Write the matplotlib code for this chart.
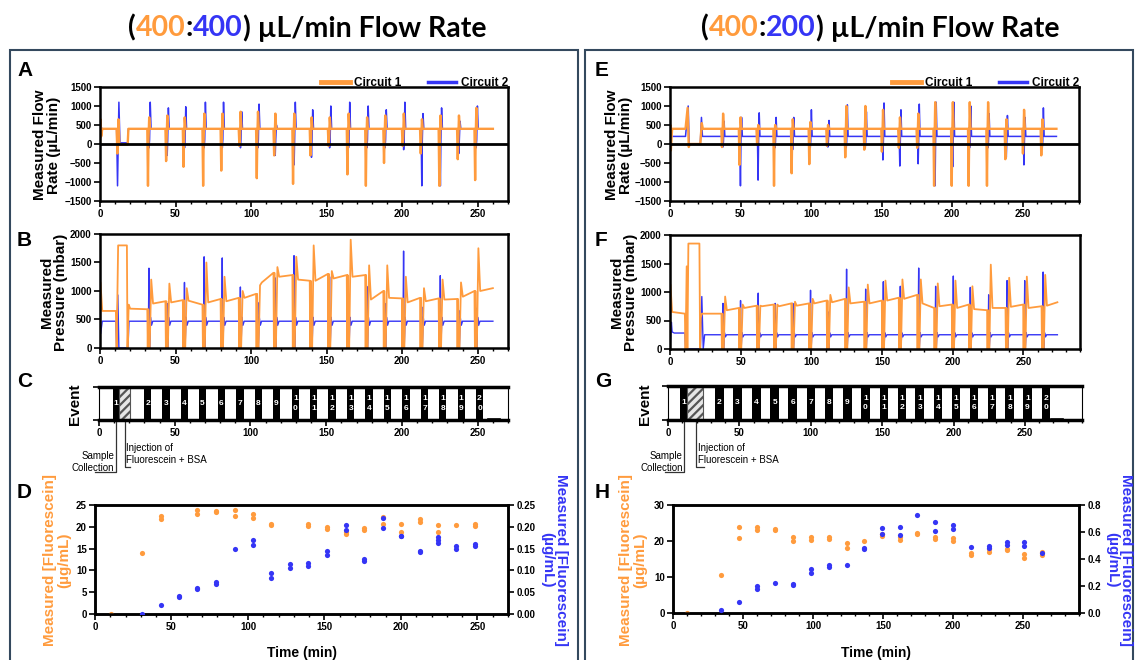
import numpy as np
import matplotlib.pyplot as plt
import matplotlib.transforms as mtrans
from matplotlib.patches import Rectangle
from matplotlib.lines import Line2D

W, H = 1135, 660
ORANGE = '#FF9B3D'
BLUE = '#3535F5'
FRAME = '#34495E'

plt.rcParams['font.family'] = ['Liberation Sans', 'DejaVu Sans']
plt.rcParams['font.weight'] = 'bold'
plt.rcParams['hatch.linewidth'] = 1.6

# ---------------- data: 400:400 run (left) ----------------
a_evt = [32.5, 44.5, 56, 69, 81, 93, 104.5, 116, 128.5, 140, 152, 164.5, 176.7,
         188.7, 201, 213, 225.3, 237.5, 249]
a_or_lo = [-1100, -450, -600, -1100, -700, -50, -900, -300, -1050, -300, -50, -800,
           -1100, -500, -50, -250, -1100, -400, -950]
a_or_hi = [700, 750, 700, 800, 800, 850, 850, 800, 800, 700, 700, 800, 700, 750,
           800, 650, 750, 750, 950]
a_bl_lo = [-100, -300, -100, -100, -100, -100, -100, -300, -550, -350, -100, -100,
           -100, -100, -150, -1100, -1100, -250, -100]
a_bl_hi = [1100, 950, 980, 1100, 1100, 850, 1050, 500, 1100, 900, 1000, 1100, 1000,
           900, 1100, 800, 950, 600, 1000]
a_or_t0 = [0, 0.3, 0.8, 1.5, 11.0, 11.5, 12.2, 12.8, 13.3, 18.3, 18.8]
a_or_v0 = [0, 650, 200, 400, 400, -250, 650, 0, -20, -20, 400]
a_bl_t0 = [0, 0.5, 1.5, 11.0, 11.6, 12.5, 13.2, 18.3, 18.8]
a_bl_v0 = [400, 450, 400, 400, -1100, 1100, 30, 30, 400]

b_or_peak = [1200, 1130, 1050, 1500, 1250, 1000, 1100, 1420, 1600, 1800, 1350, 1900,
             1450, 1450, 1250, 1050, 1200, 1150, 1750]
b_or_p0 = [780, 800, 830, 800, 820, 880, 1150, 1250, 1200, 1180, 1220, 1250, 850, 880,
           800, 820, 850, 900, 1000]
b_or_p1 = [820, 840, 760, 860, 880, 950, 1320, 1280, 1180, 1300, 1280, 1280, 1000, 870,
           880, 870, 860, 1000, 1050]
b_bl_peak = [1400, 780, 1150, 1600, 1580, 1070, 800, 1230, 1620, 870, 1250, 950, 1080,
             780, 1700, 720, 1270, 660, 700]
b_or_t0 = [0, 0.3, 1.5, 10.5, 11.0, 12.0, 17.8, 18.2, 19.0, 20.0, 30.0]
b_or_v0 = [0, 1150, 650, 650, 0, 1800, 1800, 0, 760, 690, 680]
b_bl_t0 = [0, 0.4, 1.5, 10.5, 11.0, 11.8, 12.5, 18.5, 19.2]
b_bl_v0 = [550, 250, 470, 470, 0, 930, 0, 0, 470]

c_bar_start = [9.2, 29.7, 41.8, 53.9, 65.9, 78.3, 90.6, 102.7, 114.7, 127.3, 139.1,
               151.4, 163.8, 175.8, 187.9, 200.2, 212.6, 224.6, 236.7, 248.8]
c_bar_width = [4.1] + [4.8] * 19
c_hatch = [13.3, 7.2]
c_tail = [257, 264.5]

d_t_or = [10.5, 30.8, 43, 43, 67, 67, 79, 79, 91.3, 91.3, 103.3, 103.3, 115.3, 115.3,
          139.5, 139.5, 151.5, 151.5, 163.8, 163.8, 175.8, 175.8, 188, 188, 200, 200,
          212.2, 212.2, 224.2, 224.2, 236.2, 248.5, 248.5]
d_or = [0, 13.9, 22.5, 21.9, 23.8, 23.0, 23.7, 23.3, 23.8, 22.4, 23.0, 22.1, 20.6, 20.3,
        20.6, 20.1, 20.0, 19.5, 18.9, 18.4, 19.7, 19.3, 22.2, 20.6, 20.6, 18.7, 21.8, 21.2,
        20.5, 18.8, 20.5, 20.6, 20.2]
d_t_bl = [30.8, 43, 55, 55, 67, 67, 79, 79, 91.3, 103.3, 103.3, 115.3, 115.3, 127.3, 127.3,
          139.5, 139.5, 151.5, 151.5, 163.8, 163.8, 175.8, 175.8, 188, 188, 200, 200,
          212.2, 212.2, 224.2, 224.2, 224.2, 236.2, 236.2, 248.5, 248.5]
d_bl = [0.0, 0.020, 0.042, 0.040, 0.059, 0.057, 0.073, 0.068, 0.148, 0.170, 0.158, 0.093,
        0.083, 0.114, 0.105, 0.117, 0.110, 0.144, 0.136, 0.205, 0.192, 0.127, 0.121, 0.221,
        0.197, 0.180, 0.178, 0.145, 0.142, 0.176, 0.169, 0.163, 0.157, 0.149, 0.161, 0.155]

# ---------------- data: 400:200 run (right) ----------------
e_evt = [37.6, 50, 62.5, 74.5, 87, 99.5, 112, 125, 138.5, 151, 163, 176, 188, 200.5,
         212.5, 225.5, 238.5, 251, 264]
e_or_lo = [-80, -550, -20, -1100, -770, -530, -50, -350, -150, -200, -100, -100, -1100,
           -1100, -1100, -1100, -400, -250, -300]
e_or_hi = [800, 700, 500, 500, 650, 580, 500, 1000, 1000, 900, 700, 800, 1100, 1100, 1100,
           1100, 650, 900, 650]
e_bl_lo = [-80, -1100, -950, -100, -150, -100, -80, -100, -100, -420, -580, -520, -1100,
           -600, -100, -100, -350, -550, -100]
e_bl_hi = [600, 700, 820, 700, 700, 900, 620, 1030, 850, 1080, 900, 1050, 1100, 1100, 1000,
           800, 750, 700, 950]
e_or_t0 = [0, 0.3, 0.6, 1.5, 11.0, 12.5, 13.3, 14.0, 21.5, 22.5, 23.3]
e_or_v0 = [0, 500, -170, 400, 400, 950, -80, 0, 0, 550, 400]
e_bl_t0 = [0, 0.5, 1.5, 11.0, 12.9, 13.6, 14.0, 21.5, 22.3, 23.0]
e_bl_v0 = [0, 200, 200, 200, 1000, -50, 0, 0, 700, 200]

f_or_peak = [920, 780, 760, 780, 830, 880, 950, 1080, 1130, 1200, 1220, 1220, 1150, 1200,
             1100, 1480, 1250, 1270, 1300]
f_or_p0 = [680, 720, 750, 750, 760, 800, 820, 800, 800, 850, 880, 800, 750, 720, 700, 720,
           740, 720, 760]
f_or_p1 = [720, 760, 780, 800, 800, 850, 880, 830, 850, 900, 950, 720, 780, 780, 680, 720,
           780, 750, 820]
f_bl_peak = [800, 850, 980, 800, 800, 1030, 650, 1400, 1050, 1180, 1100, 1420, 1100, 1280,
             1080, 950, 1200, 1200, 1350]
f_or_t0 = [0, 0.3, 1.5, 10.5, 11.0, 11.8, 12.3, 13.0, 20.8, 21.3, 21.8, 22.5, 35.0]
f_or_v0 = [0, 1130, 650, 620, 0, 1450, 0, 1850, 1850, 0, 550, 620, 620]
f_bl_t0 = [0, 1.0, 1.5, 3.0, 10.5, 11.0, 21.5, 22.5, 23.5, 24.5]
f_bl_v0 = [0, 470, 300, 280, 280, 0, 0, 920, 0, 250]

g_bar_start = [8.7, 33.0, 45.7, 58.8, 71.7, 84.4, 97.3, 109.7, 122.6, 135.3, 148.2, 160.9,
               173.3, 186.0, 198.6, 211.3, 223.9, 236.3, 248.8, 261.9]
g_bar_width = [4.8] + [6.0] * 19
g_hatch = [13.5, 11.3]
g_tail = [268, 277]

h_t_or = [10.2, 34.5, 47.1, 47.1, 60, 60, 72.9, 72.9, 85.5, 85.5, 98.3, 98.3, 111.2, 111.2,
          124, 124, 136.7, 149.5, 149.5, 161.9, 161.9, 174.5, 174.5, 187.4, 187.4, 200, 200,
          212.9, 212.9, 225.5, 225.5, 238.3, 238.3, 251, 251, 263.6, 263.6]
h_or = [0, 10.5, 23.9, 20.9, 23.9, 23.0, 23.4, 23.1, 21.1, 19.9, 21.2, 20.2, 21.0, 20.5,
        19.4, 18.0, 20.1, 21.9, 21.4, 21.0, 20.2, 22.2, 21.9, 21.2, 20.6, 20.7, 19.9, 16.8,
        16.2, 17.7, 16.9, 17.8, 17.6, 16.4, 15.3, 16.9, 16.0]
h_t_bl = [34.5, 47.1, 60, 60, 72.9, 85.5, 85.5, 98.3, 98.3, 111.2, 111.2, 124, 136.7, 136.7,
          149.5, 149.5, 161.9, 161.9, 174.5, 187.4, 187.4, 200, 200, 212.9, 225.5, 225.5,
          238.3, 238.3, 251, 251, 263.6]
h_bl = [0.020, 0.079, 0.202, 0.180, 0.219, 0.214, 0.207, 0.325, 0.300, 0.357, 0.342, 0.354,
        0.485, 0.475, 0.633, 0.583, 0.640, 0.576, 0.729, 0.677, 0.610, 0.652, 0.623, 0.487,
        0.500, 0.485, 0.527, 0.505, 0.527, 0.500, 0.443]


# ---------------- helpers ----------------
def spikes(t0, v0, ev, lo, hi, base, t_end, shift):
    t, v = list(t0), list(v0)
    for te, a, b in zip(ev, lo, hi):
        te = te + shift
        t += [te - 0.9, te - 0.45, te - 0.1, te + 0.35, te + 0.9]
        v += [base, a, base * 0.3, b, base]
    return np.array(t + [t_end]), np.array(v + [base])


def press_orange(t0, v0, ev, peak, p0, p1, t_end):
    t, v = list(t0), list(v0)
    prev = v0[-1]
    for te, pk, a, b in zip(ev, peak, p0, p1):
        t += [te - 1.2, te - 0.9, te - 0.6, te - 0.3, te + 0.4, te + 1.4, te + 2.6]
        v += [prev, 0, prev, 0, 0, pk, a]
        prev = b
    return np.array(t + [t_end]), np.array(v + [prev])


def press_blue(t0, v0, ev, peak, base, t_end):
    t, v = list(t0), list(v0)
    for te, pk in zip(ev, peak):
        t += [te - 0.9, te - 0.6, te - 0.1, te + 0.3, te + 0.9, te + 1.6, te + 2.4]
        v += [base, 0, pk, 0, base * 1.15, base * 0.85, base]
    return np.array(t + [t_end]), np.array(v + [base])


fig = plt.figure(figsize=(W / 100, H / 100), dpi=100)


def add_ax(l, t, r, b):
    return fig.add_axes([l / W, 1 - b / H, (r - l) / W, (b - t) / H])


def style(ax, xmax, lw=1.8):
    ax.set_xlim(0, xmax)
    ax.set_xticks(np.arange(0, xmax, 50))
    ax.set_xticks(np.arange(0, xmax + 1, 10), minor=True)
    for s in ax.spines.values():
        s.set_linewidth(lw)
    ax.tick_params(which='major', length=4, width=1.2, labelsize=7, pad=2)
    ax.tick_params(which='minor', length=2.5, width=1.0)


def ftext(x, y, s, **kw):
    fig.text(x / W, 1 - y / H, s, **kw)


def legend(ax):
    h = [Line2D([], [], color=ORANGE, lw=3.5), Line2D([], [], color=BLUE, lw=2.5)]
    ax.legend(h, ['Circuit 1', 'Circuit 2'], loc='lower right', bbox_to_anchor=(1.0, 0.98),
              ncol=2, frameon=False, fontsize=8.5, handlelength=2.4, columnspacing=2.2,
              handletextpad=0.4, borderaxespad=0, borderpad=0)


def flow_panel(box, xmax, ev, olo, ohi, blo, bhi, ot0, ov0, bt0, bv0, obase, bbase, tend):
    ax = add_ax(*box)
    tb, vb = spikes(bt0, bv0, ev, blo, bhi, bbase, tend, 0.4)
    to, vo = spikes(ot0, ov0, ev, olo, ohi, obase, tend, -0.3)
    ax.plot(tb, vb, color=BLUE, lw=1.1)
    ax.plot(to, vo, color=ORANGE, lw=1.7)
    ax.axhline(0, color='black', lw=2)
    ax.set_ylim(-1500, 1500)
    ax.set_yticks(np.arange(-1500, 1501, 500))
    style(ax, xmax)
    legend(ax)
    return ax


def press_panel(box, xmax, ev, opk, op0, op1, ot0, ov0, bpk, bt0, bv0, bbase, tend):
    ax = add_ax(*box)
    tb, vb = press_blue(bt0, bv0, ev, bpk, bbase, tend)
    to, vo = press_orange(ot0, ov0, ev, opk, op0, op1, tend)
    ax.plot(tb, vb, color=BLUE, lw=1.0)
    ax.plot(to, vo, color=ORANGE, lw=1.3)
    ax.set_ylim(0, 2000)
    ax.set_yticks(np.arange(0, 2001, 500))
    style(ax, xmax)
    return ax


def event_panel(box, xmax, starts, widths, hatch, tail, samp, inj):
    ax = add_ax(*box)
    ax.bar(starts, 1, width=widths, align='edge', color='black', lw=0)
    ax.bar(hatch[0], 1, width=hatch[1], align='edge', facecolor='#e6e6e6',
           edgecolor='#555555', hatch='////', lw=0.8)
    for i, (s, w) in enumerate(zip(starts, widths)):
        lab = str(i + 1) if i < 9 else '\n'.join(str(i + 1))
        ax.text(s + w / 2, 0.5, lab, color='white', ha='center', va='center',
                fontsize=6, linespacing=1.5)
    ax.plot(tail, [0.03, 0.03], color='black', lw=1.2)
    ax.set_ylim(0, 1)
    ax.set_yticks([0, 1])
    ax.set_yticklabels([])
    style(ax, xmax)
    ax.spines['top'].set_linewidth(2.5)
    ax.spines['bottom'].set_linewidth(2.5)
    ax.spines['left'].set_linewidth(0.8)
    ax.spines['right'].set_linewidth(0.8)
    tr = mtrans.blended_transform_factory(ax.transData, fig.transFigure)
    yb = 1 - box[3] / H
    y1, y2 = 1 - 471.7 / H, 1 - 466.7 / H
    ax.plot([samp[0], samp[0], samp[1]], [yb, y1, y1], color='#333333', lw=0.9,
            transform=tr, clip_on=False)
    ax.plot([inj[0], inj[0], inj[1]], [yb, y2, y2], color='#333333', lw=0.9,
            transform=tr, clip_on=False)
    kw = dict(transform=tr, fontsize=7, va='center', fontweight='normal',
              family=['Liberation Sans Narrow', 'Liberation Sans'])
    ax.text(samp[0] - 0.8, 1 - 455.7 / H, 'Sample', ha='right', **kw)
    ax.text(samp[0] - 0.8, 1 - 468 / H, 'Collection', ha='right', **kw)
    ax.text(inj[0] + 1.2, 1 - 447.7 / H, 'Injection of', ha='left', **kw)
    ax.text(inj[0] + 1.2, 1 - 460 / H, 'Fluorescein + BSA', ha='left', **kw)
    return ax


def conc_panel(box, xmax, t_or, v_or, t_bl, v_bl, lmax, lstep, rmax, rstep, rfmt):
    ax = add_ax(*box)
    ax2 = ax.twinx()
    ax.scatter(t_or, v_or, s=14, color=ORANGE, zorder=3, lw=0)
    ax2.scatter(t_bl, v_bl, s=14, color=BLUE, zorder=3, lw=0)
    ax.set_ylim(0, lmax)
    ax.set_yticks(np.arange(0, lmax + 0.001, lstep))
    ax2.set_ylim(0, rmax)
    ax2.set_yticks(np.arange(0, rmax + 1e-6, rstep))
    ax2.set_yticklabels([rfmt % v for v in np.arange(0, rmax + 1e-6, rstep)])
    style(ax, xmax)
    for s in ax2.spines.values():
        s.set_linewidth(1.8)
    ax2.tick_params(length=4, width=1.2, labelsize=7, pad=2)
    return ax


def colored_title(xc, yp, parts):
    r = fig.canvas.get_renderer()
    objs = [fig.text(0, 1 - yp / H, s, color=c, fontsize=20.5, family=['Lato', 'DejaVu Sans'],
                     fontweight='bold', va='center') for s, c in parts]
    widths = [o.get_window_extent(r).width for o in objs]
    x = xc - sum(widths) / 2
    for o, w in zip(objs, widths):
        o.set_x(x / W)
        x += w


# ---------------- left column ----------------
flow_panel((100, 87, 508, 201), 270, a_evt, a_or_lo, a_or_hi, a_bl_lo, a_bl_hi,
           a_or_t0, a_or_v0, a_bl_t0, a_bl_v0, 400, 400, 260)
press_panel((100, 234, 508, 348), 270, a_evt, b_or_peak, b_or_p0, b_or_p1, b_or_t0, b_or_v0,
            b_bl_peak, b_bl_t0, b_bl_v0, 470, 260)
event_panel((99, 387, 508, 420), 270, c_bar_start, c_bar_width, c_hatch, c_tail,
            (10.9, -2.4), (16.9, 20.5))
conc_panel((95, 505, 508, 614), 270, d_t_or, d_or, d_t_bl, d_bl, 25, 5, 0.25, 0.05, '%.2f')

# ---------------- right column ----------------
flow_panel((670, 87, 1079, 201), 290, e_evt, e_or_lo, e_or_hi, e_bl_lo, e_bl_hi,
           e_or_t0, e_or_v0, e_bl_t0, e_bl_v0, 400, 200, 274)
press_panel((670, 235, 1080, 349), 290, e_evt, f_or_peak, f_or_p0, f_or_p1, f_or_t0, f_or_v0,
            f_bl_peak, f_bl_t0, f_bl_v0, 250, 274)
event_panel((668, 386, 1082, 420), 290, g_bar_start, g_bar_width, g_hatch, g_tail,
            (11.2, -2.0), (19.9, 25.3))
conc_panel((673, 505, 1079, 613), 290, h_t_or, h_or, h_t_bl, h_bl, 30, 10, 0.8, 0.2, '%.1f')

# ---------------- labels ----------------
lab = dict(rotation=90, ha='center', va='center', fontsize=11, fontweight='bold',
           linespacing=1.0, multialignment='center')
ftext(47, 145, 'Measured Flow\nRate (\u00b5L/min)', **lab)
ftext(54, 292, 'Measured\nPressure (mbar)', **lab)
ftext(75, 404, 'Event', **lab)
ftext(57, 560, 'Measured [Fluorescein]\n(\u00b5g/mL)', color=ORANGE, **lab)
ftext(554, 560, 'Measured [Fluorescein]\n(\u00b5g/mL)', color=BLUE,
      **{**lab, 'rotation': 270})
ftext(619, 145, 'Measured Flow\nRate (\u00b5L/min)', **lab)
ftext(624, 292, 'Measured\nPressure (mbar)', **lab)
ftext(645, 404, 'Event', **lab)
ftext(633, 560, 'Measured [Fluorescein]\n(\u00b5g/mL)', color=ORANGE, **lab)
ftext(1119, 560, 'Measured [Fluorescein]\n(\u00b5g/mL)', color=BLUE,
      **{**lab, 'rotation': 270})
ftext(302, 653, 'Time (min)', ha='center', va='center', fontsize=10, fontweight='bold')
ftext(876, 653, 'Time (min)', ha='center', va='center', fontsize=10, fontweight='bold')

for s, x, y in [('A', 17, 70), ('B', 17, 240), ('C', 17, 382), ('D', 17, 492),
                ('E', 595, 70), ('F', 595, 240), ('G', 595, 382), ('H', 595, 492)]:
    ftext(x, y, s, fontsize=15, fontweight='bold', ha='left', va='center')

# panel frames
for l, r in [(10, 578), (585, 1133)]:
    fig.add_artist(Rectangle((l / W, -0.05), (r - l) / W, 1.05 - 50 / H, fill=False,
                             edgecolor=FRAME, lw=1.5, transform=fig.transFigure))

colored_title(307, 28, [('(', 'black'), ('400', ORANGE), (':', 'black'), ('400', BLUE),
                        (') \u00b5L/min Flow Rate', 'black')])
colored_title(880, 28, [('(', 'black'), ('400', ORANGE), (':', 'black'), ('200', BLUE),
                        (') \u00b5L/min Flow Rate', 'black')])

fig.savefig('out.png', dpi=100)
